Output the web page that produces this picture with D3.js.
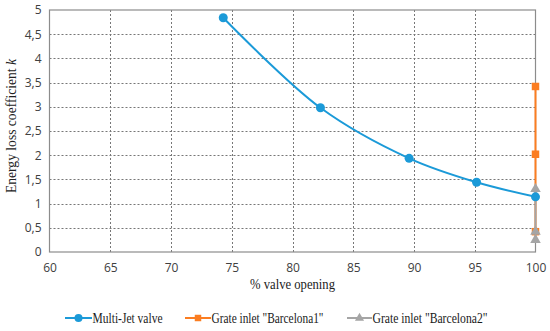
<!DOCTYPE html>
<html><head><meta charset="utf-8">
<script src="https://cdn.jsdelivr.net/npm/d3@7"></script>
<style>body{margin:0;background:#fff;}svg{display:block;}</style>
</head><body>
<svg id="c" width="550" height="331"></svg>
<script>
const multiJetX = [74.3, 82.3, 89.6, 95.15, 100];
const multiJetK = [4.84, 2.98, 1.935, 1.44, 1.14];
const barcelona1X = [100, 100, 100];
const barcelona1K = [3.42, 2.02, 0.42];
const barcelona2X = [100, 100, 100];
const barcelona2K = [1.3, 0.42, 0.25];
const xTicks = [60, 65, 70, 75, 80, 85, 90, 95, 100];
const yTicks = [0, 0.5, 1, 1.5, 2, 2.5, 3, 3.5, 4, 4.5, 5];
const seriesNames = ["Multi-Jet valve", "Grate inlet \"Barcelona1\"", "Grate inlet \"Barcelona2\""];

const svg = d3.select("#c");
const L = 49.5, R = 535.5, T = 10, B = 252;
const x = d3.scaleLinear().domain([60, 100]).range([L, R]);
const y = d3.scaleLinear().domain([0, 5]).range([B, T]);
const blue = "#1b9ad8", orange = "#fb7d21", gray = "#a5a5a5";

// grid
const g = svg.append("g");
g.selectAll(".hg").data(yTicks.filter(d => d > 0 && d < 5)).enter().append("line")
  .attr("x1", L).attr("x2", R).attr("y1", d => Math.round(y(d)) + 0.5).attr("y2", d => Math.round(y(d)) + 0.5)
  .attr("stroke", "#777").attr("stroke-width", 1).attr("stroke-dasharray", "2,2");
g.selectAll(".vg").data(xTicks.filter(d => d > 60 && d < 100)).enter().append("line")
  .attr("y1", T).attr("y2", B).attr("x1", d => Math.round(x(d)) + 0.5).attr("x2", d => Math.round(x(d)) + 0.5)
  .attr("stroke", "#777").attr("stroke-width", 1).attr("stroke-dasharray", "2,2");
// border
svg.append("rect").attr("x", L).attr("y", T).attr("width", R - L).attr("height", B - T)
  .attr("fill", "none").attr("stroke", "#8c8c8c").attr("stroke-width", 1.2);

// axes
const xAxis = svg.append("g").attr("transform", `translate(0,${B})`)
  .call(d3.axisBottom(x).tickValues(xTicks).tickSize(0).tickPadding(11).tickFormat(d3.format("d")));
xAxis.select(".domain").remove();
const fmt = d => String(d).replace(".", ",");
const yAxis = svg.append("g").attr("transform", `translate(${L},0)`)
  .call(d3.axisLeft(y).tickValues(yTicks).tickSize(0).tickPadding(8).tickFormat(fmt));
yAxis.select(".domain").remove();
svg.selectAll(".tick text").attr("font-family", "'Open Sans', 'Liberation Sans', sans-serif")
  .attr("font-size", 12).attr("fill", "#404040");

// titles
svg.append("text").attr("x", 292.5).attr("y", 289).attr("text-anchor", "middle")
  .attr("font-family", "'Liberation Serif', serif").attr("font-size", 14).attr("fill", "#222")
  .attr("textLength", 85).attr("lengthAdjust", "spacingAndGlyphs")
  .text("% valve opening");
const yt = svg.append("text").attr("transform", `translate(16,126) rotate(-90)`)
  .attr("text-anchor", "middle").attr("font-family", "'Liberation Serif', serif")
  .attr("font-size", 14).attr("fill", "#222")
  .attr("textLength", 134).attr("lengthAdjust", "spacingAndGlyphs");
yt.append("tspan").text("Energy loss coefficient ");
yt.append("tspan").attr("font-style", "italic").text("k");

// series
const mj = multiJetX.map((v, i) => [v, multiJetK[i]]);
const b1 = barcelona1X.map((v, i) => [v, barcelona1K[i]]);
const b2 = barcelona2X.map((v, i) => [v, barcelona2K[i]]);

svg.append("path").datum(b1).attr("fill", "none").attr("stroke", orange).attr("stroke-width", 2)
  .attr("d", d3.line().x(d => x(d[0])).y(d => y(d[1])));
svg.append("path").datum(b2).attr("fill", "none").attr("stroke", gray).attr("stroke-width", 2)
  .attr("d", d3.line().x(d => x(d[0])).y(d => y(d[1])));
svg.append("path").datum(mj).attr("fill", "none").attr("stroke", blue).attr("stroke-width", 2)
  .attr("d", d3.line().curve(d3.curveCatmullRom.alpha(0.5)).x(d => x(d[0])).y(d => y(d[1])));

const sq = d3.symbol().type(d3.symbolSquare).size(56);
const tri = d3.symbol().type(d3.symbolTriangle).size(48);
svg.selectAll(".b1").data(b1).enter().append("path").attr("d", sq)
  .attr("transform", d => `translate(${x(d[0])},${y(d[1])})`).attr("fill", orange);
svg.selectAll(".b2").data(b2).enter().append("path").attr("d", tri)
  .attr("transform", d => `translate(${x(d[0])},${y(d[1])})`).attr("fill", gray);
svg.selectAll(".mj").data(mj).enter().append("circle").attr("cx", d => x(d[0])).attr("cy", d => y(d[1]))
  .attr("r", 4.5).attr("fill", blue);

// legend
const ly = 318;
const leg = [
  {x0: 65, x1: 92, name: seriesNames[0], color: blue, sym: "c", w: 70},
  {x0: 185, x1: 211, name: seriesNames[1], color: orange, sym: "s", w: 112},
  {x0: 347, x1: 372, name: seriesNames[2], color: gray, sym: "t", w: 115}
];
leg.forEach(l => {
  svg.append("line").attr("x1", l.x0).attr("x2", l.x1).attr("y1", ly).attr("y2", ly)
    .attr("stroke", l.color).attr("stroke-width", 2);
  const cx = (l.x0 + l.x1) / 2;
  if (l.sym === "c") svg.append("circle").attr("cx", cx).attr("cy", ly).attr("r", 4).attr("fill", l.color);
  else svg.append("path").attr("d", l.sym === "s" ? d3.symbol().type(d3.symbolSquare).size(42)() : d3.symbol().type(d3.symbolTriangle).size(36)())
    .attr("transform", `translate(${cx},${ly})`).attr("fill", l.color);
  svg.append("text").attr("x", l.x1 + 0.5).attr("y", ly + 4.5)
    .attr("font-family", "'Liberation Serif', serif").attr("font-size", 14).attr("fill", "#1a1a1a")
    .attr("textLength", l.w).attr("lengthAdjust", "spacingAndGlyphs").text(l.name);
});
</script>
</body></html>
